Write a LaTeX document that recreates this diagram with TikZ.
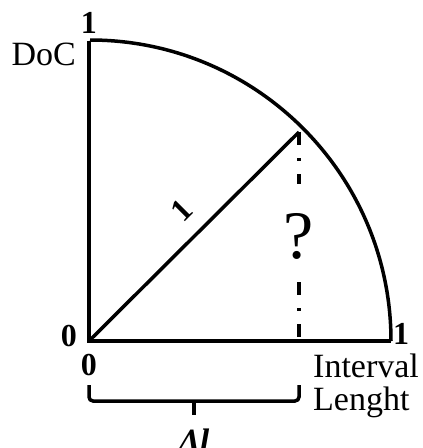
\documentclass[tikz,border=0pt]{standalone}
\usepackage{fontspec}
\setmainfont{Liberation Serif}
\usetikzlibrary{positioning}

\tikzstyle{every node}=[inner sep=0pt, font={\fontsize{34}{34}\selectfont}]
\tikzstyle{num}=[font={\fontsize{32}{32}\selectfont\bfseries}]
\tikzstyle{thickline}=[line width=3.5pt]
\tikzstyle{dashdot}=[line width=3.5pt, dash pattern=on 13pt off 13pt on 3pt off 13pt]

\begin{document}
\begin{tikzpicture}[x=1pt, y=-1pt]
    \useasboundingbox (0,0) rectangle (423,448);
    % axes and quarter circle
    \coordinate (O) at (89,341);
    \coordinate (top) at (89,41);
    \coordinate (right) at (391,341);
    \coordinate (P) at (299,132);
    \coordinate (F) at (299,341);
    \draw [thickline] (top) -- (O) -- (right);
    \draw [thickline] (right) arc [start angle=0, end angle=90, radius=301pt];
    \draw [thickline] (O) -- (P);
    % projection with the question mark
    \node [font={\fontsize{68}{68}\selectfont}] (q) at (299,236) {?};
    \coordinate (qa) at (299,184);
    \coordinate (qb) at (299,282);
    \draw [dashdot] (P) -- (qa);
    \draw [dashdot] (qb) -- (F);
    % labels
    \node [num, above=7pt of top] (ytop) {1};
    \node [anchor=north east] (doc) at (76,43) {DoC};
    \node [num, anchor=south east] (yzero) at (77,347) {0};
    \node [num, below=13pt of O] (xzero) {0};
    \node [num, anchor=south west] (xone) at (393,345) {1};
    \node [num, rotate=45] (radius) at (182,210) {1};
    \node [anchor=base west] (interval) at (313,377) {Interval};
    \node [anchor=base west] (lenght) at (313,410) {Lenght};
    % bracket under the interval
    \coordinate (bl) at (89,385);
    \coordinate (br) at (299,385);
    \coordinate (mid) at (194,401);
    \coordinate (tip) at (194,415);
    \draw [thickline, rounded corners=4pt] (bl) -- (89,401) -- (299,401) -- (br);
    \draw [thickline] (mid) -- (tip);
    \node [below=14pt of tip, font={\fontsize{34}{34}\selectfont\bfseries\itshape}] (dl) {Δl};
\end{tikzpicture}
\end{document}
